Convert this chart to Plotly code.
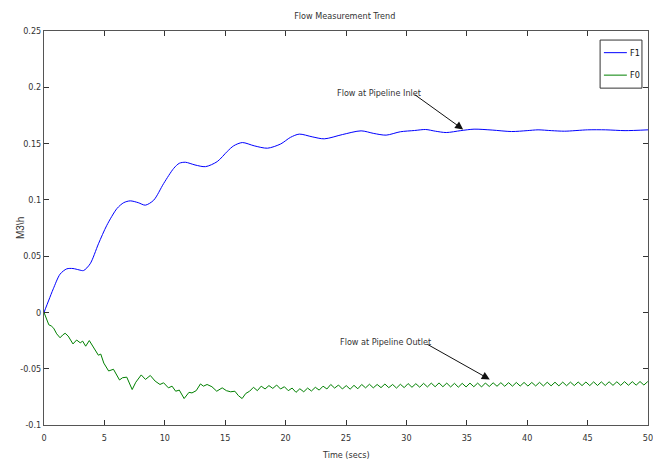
import plotly.graph_objects as go

# ---- data ----
t_f1 = [0, 0.4, 0.77, 1.33, 1.88, 2.4, 2.9, 3.27, 3.82, 4.51, 5.2, 6.04, 6.6, 7.14, 7.8,
        8.39, 9.08, 9.91, 10.74, 11.2, 11.71, 12.5, 13.37, 14.34, 15.17, 15.7, 16.42,
        17.4, 18.5, 19.6, 20.4, 21.13, 22.2, 23.2, 24.7, 26.25, 27.3, 28.32, 29.5,
        30.67, 31.6, 32.4, 33.3, 34.5, 35.6, 37.1, 38.7, 40.0, 40.9, 42.0, 43.1, 45.0,
        46.5, 48.1, 50]
f1 = [0.0, 0.011, 0.021, 0.034, 0.0387, 0.039, 0.0378, 0.0372, 0.0432, 0.061, 0.0774,
      0.0923, 0.0975, 0.0991, 0.0975, 0.0953, 0.0997, 0.1146, 0.128, 0.1325, 0.1334,
      0.131, 0.1295, 0.134, 0.143, 0.148, 0.1509, 0.148, 0.1459, 0.1497, 0.1555, 0.1584,
      0.156, 0.1542, 0.158, 0.1613, 0.159, 0.1575, 0.1605, 0.1616, 0.1625, 0.161, 0.1598,
      0.1615, 0.1628, 0.162, 0.1607, 0.1615, 0.1622, 0.1615, 0.161, 0.1622, 0.1622,
      0.1615, 0.1622]

t_f0 = [0.0, 0.2, 0.4, 0.6, 0.8, 1.05, 1.33, 1.55, 1.75, 2.0, 2.2, 2.4, 2.7, 3.0, 3.2,
        3.45, 3.75, 4.1, 4.5, 4.7, 4.95, 5.35, 5.75, 6.25, 6.5, 6.85, 7.1, 7.3, 7.6, 8.05,
        8.4, 8.8, 9.2, 9.6, 9.9, 10.3, 10.6, 10.9, 11.2, 11.6, 12.0, 12.25, 12.6, 12.95,
        13.2, 13.5, 13.9, 14.3, 14.75, 15.1, 15.45, 15.8, 16.1, 16.4, 16.7,
        17.02, 17.34, 17.66, 17.98, 18.3, 18.62, 18.94, 19.26, 19.58, 19.9, 20.22, 20.54,
        20.86, 21.18, 21.5, 21.82, 22.14, 22.46, 22.78, 23.1, 23.42, 23.74, 24.06, 24.38,
        24.7, 25.02, 25.34, 25.66, 25.98, 26.3, 26.62, 26.94, 27.26, 27.58, 27.9, 28.22,
        28.54, 28.86, 29.18, 29.5, 29.82, 30.14, 30.46, 30.78, 31.1, 31.42, 31.74, 32.06,
        32.38, 32.7, 33.02, 33.34, 33.66, 33.98, 34.3, 34.62, 34.94, 35.26, 35.58, 35.9,
        36.22, 36.54, 36.86, 37.18, 37.5, 37.82, 38.14, 38.46, 38.78, 39.1, 39.42, 39.74,
        40.06, 40.38, 40.7, 41.02, 41.34, 41.66, 41.98, 42.3, 42.62, 42.94, 43.26, 43.58,
        43.9, 44.22, 44.54, 44.86, 45.18, 45.5, 45.82, 46.14, 46.46, 46.78, 47.1, 47.42,
        47.74, 48.06, 48.38, 48.7, 49.02, 49.34, 49.66, 49.98]
f0 = [0.0, -0.006, -0.011, -0.012, -0.014, -0.019, -0.0225, -0.020, -0.0185, -0.021,
      -0.025, -0.028, -0.0245, -0.027, -0.0255, -0.030, -0.025, -0.031, -0.038, -0.037,
      -0.045, -0.052, -0.0505, -0.060, -0.058, -0.0575, -0.064, -0.0685, -0.062, -0.0555,
      -0.0595, -0.056, -0.061, -0.064, -0.0625, -0.067, -0.0655, -0.070, -0.069, -0.0765,
      -0.071, -0.0715, -0.0695, -0.0635, -0.0655, -0.064, -0.066, -0.070, -0.067, -0.0695,
      -0.0705, -0.070, -0.074, -0.0765, -0.072,
      -0.0700, -0.0665, -0.0695, -0.0655, -0.0680, -0.0650, -0.0675, -0.0645, -0.0680,
      -0.0660, -0.0695, -0.0672, -0.0710, -0.0678, -0.0705, -0.0672, -0.0698, -0.0665,
      -0.0690, -0.0655, -0.0680, -0.0640, -0.0672, -0.0645, -0.0680, -0.0650, -0.0682,
      -0.0648, -0.0678, -0.0640, -0.0670, -0.0638, -0.0670, -0.0640, -0.0668, -0.0636,
      -0.0668, -0.0640, -0.0672, -0.0638, -0.0668, -0.0632, -0.0665, -0.0633, -0.0664,
      -0.0630, -0.0662, -0.0628, -0.0660, -0.0626, -0.0660, -0.0628, -0.0662, -0.0630,
      -0.0664, -0.0630, -0.0662, -0.0628, -0.0660, -0.0628, -0.0662, -0.0627, -0.0658,
      -0.0625, -0.0656, -0.0624, -0.0656, -0.0624, -0.0655, -0.0622, -0.0654, -0.0622,
      -0.0654, -0.0622, -0.0653, -0.0621, -0.0653, -0.0620, -0.0652, -0.0620, -0.0652,
      -0.0619, -0.0651, -0.0619, -0.0650, -0.0618, -0.0650, -0.0618, -0.0650, -0.0617,
      -0.0649, -0.0617, -0.0649, -0.0616, -0.0648, -0.0616, -0.0648, -0.0615, -0.0647,
      -0.0615, -0.0646, -0.0614, -0.0645, -0.0614]

series_names = ["F1", "F0"]
series_colors = ["#0000ff", "#008000"]

x_ticks = [0, 5, 10, 15, 20, 25, 30, 35, 40, 45, 50]
y_ticks = [-0.1, -0.05, 0, 0.05, 0.1, 0.15, 0.2, 0.25]
y_tick_text = ["-0.1", "-0.05", "0", "0.05", "0.1", "0.15", "0.2", "0.25"]

NARROW = ("Liberation Sans Narrow, Arial Narrow, DejaVu Sans Condensed, "
          "Roboto Condensed, Liberation Sans, Arial, sans-serif")
REG = "Liberation Sans, Arial, sans-serif"
TXT = "#333333"

fig = go.Figure()
fig.add_trace(go.Scatter(x=t_f1, y=f1, mode="lines", name=series_names[0],
                         line=dict(color=series_colors[0], width=1, shape="spline",
                                   smoothing=0.8)))
fig.add_trace(go.Scatter(x=t_f0, y=f0, mode="lines", name=series_names[1],
                         line=dict(color=series_colors[1], width=1)))

axis_common = dict(showline=True, linecolor="#555555", linewidth=1, mirror="ticks",
                   ticks="inside", ticklen=5, tickcolor="#333333", showgrid=False,
                   zeroline=False, automargin=False, ticklabeloverflow="allow",
                   tickfont=dict(family=NARROW, size=9, color=TXT))

fig.update_xaxes(range=[0, 50], tickvals=x_ticks, ticklabelstandoff=4, **axis_common)
fig.update_yaxes(range=[-0.1, 0.25], tickvals=y_ticks, ticktext=y_tick_text, **axis_common)

# axis titles placed as in the reference
fig.add_annotation(xref="paper", yref="paper", x=0.5, y=-0.076, text="Time (secs)",
                   showarrow=False, xanchor="center", yanchor="middle",
                   font=dict(family=NARROW, size=9, color=TXT))
fig.add_annotation(xref="paper", yref="paper", x=-0.0397, y=0.5, text="M3\\h",
                   showarrow=False, textangle=-90, xanchor="center", yanchor="middle",
                   font=dict(family=REG, size=10, color=TXT))

# text annotations with arrows
fig.add_annotation(x=27.7, y=0.1953, text="Flow at Pipeline Inlet", showarrow=False,
                   font=dict(family=NARROW, size=9, color=TXT))
fig.add_annotation(x=34.7, y=0.1625, text="", showarrow=True, arrowhead=2, arrowsize=1.6,
                   arrowwidth=1, arrowcolor="#111111", ax=-50, ay=-36)
fig.add_annotation(x=28.3, y=-0.0262, text="Flow at Pipeline Outlet", showarrow=False,
                   font=dict(family=NARROW, size=9, color=TXT))
fig.add_annotation(x=36.9, y=-0.0595, text="", showarrow=True, arrowhead=2, arrowsize=1.6,
                   arrowwidth=1, arrowcolor="#111111", ax=-64, ay=-36)

# compact MATLAB-style legend box (paper coordinates)
leg_x0, leg_x1, leg_y0, leg_y1 = 0.9207, 0.990, 0.855, 0.977
fig.add_shape(type="rect", xref="paper", yref="paper", x0=leg_x0, x1=leg_x1,
              y0=leg_y0, y1=leg_y1, line=dict(color="#333333", width=1),
              fillcolor="white", layer="above")
for name, color, ly in zip(series_names, series_colors, [0.945, 0.888]):
    fig.add_shape(type="line", xref="paper", yref="paper", x0=0.927, x1=0.965,
                  y0=ly, y1=ly, line=dict(color=color, width=1), layer="above")
    fig.add_annotation(xref="paper", yref="paper", x=0.967, y=ly, text=name,
                       showarrow=False, xanchor="left", yanchor="middle",
                       font=dict(family=NARROW, size=9, color="#111111"))

fig.update_layout(
    width=653, height=464,
    margin=dict(l=44, r=5, t=31, b=39),
    paper_bgcolor="white", plot_bgcolor="white",
    title=dict(text="Flow Measurement Trend", x=0.528, xanchor="center",
               y=1 - 16 / 464, yanchor="middle",
               font=dict(family=NARROW, size=9, color=TXT)),
    showlegend=False,
)

fig.write_html("out.html", config={"displayModeBar": False},
               post_script="document.body.style.margin='0';document.body.style.overflow='hidden';")
